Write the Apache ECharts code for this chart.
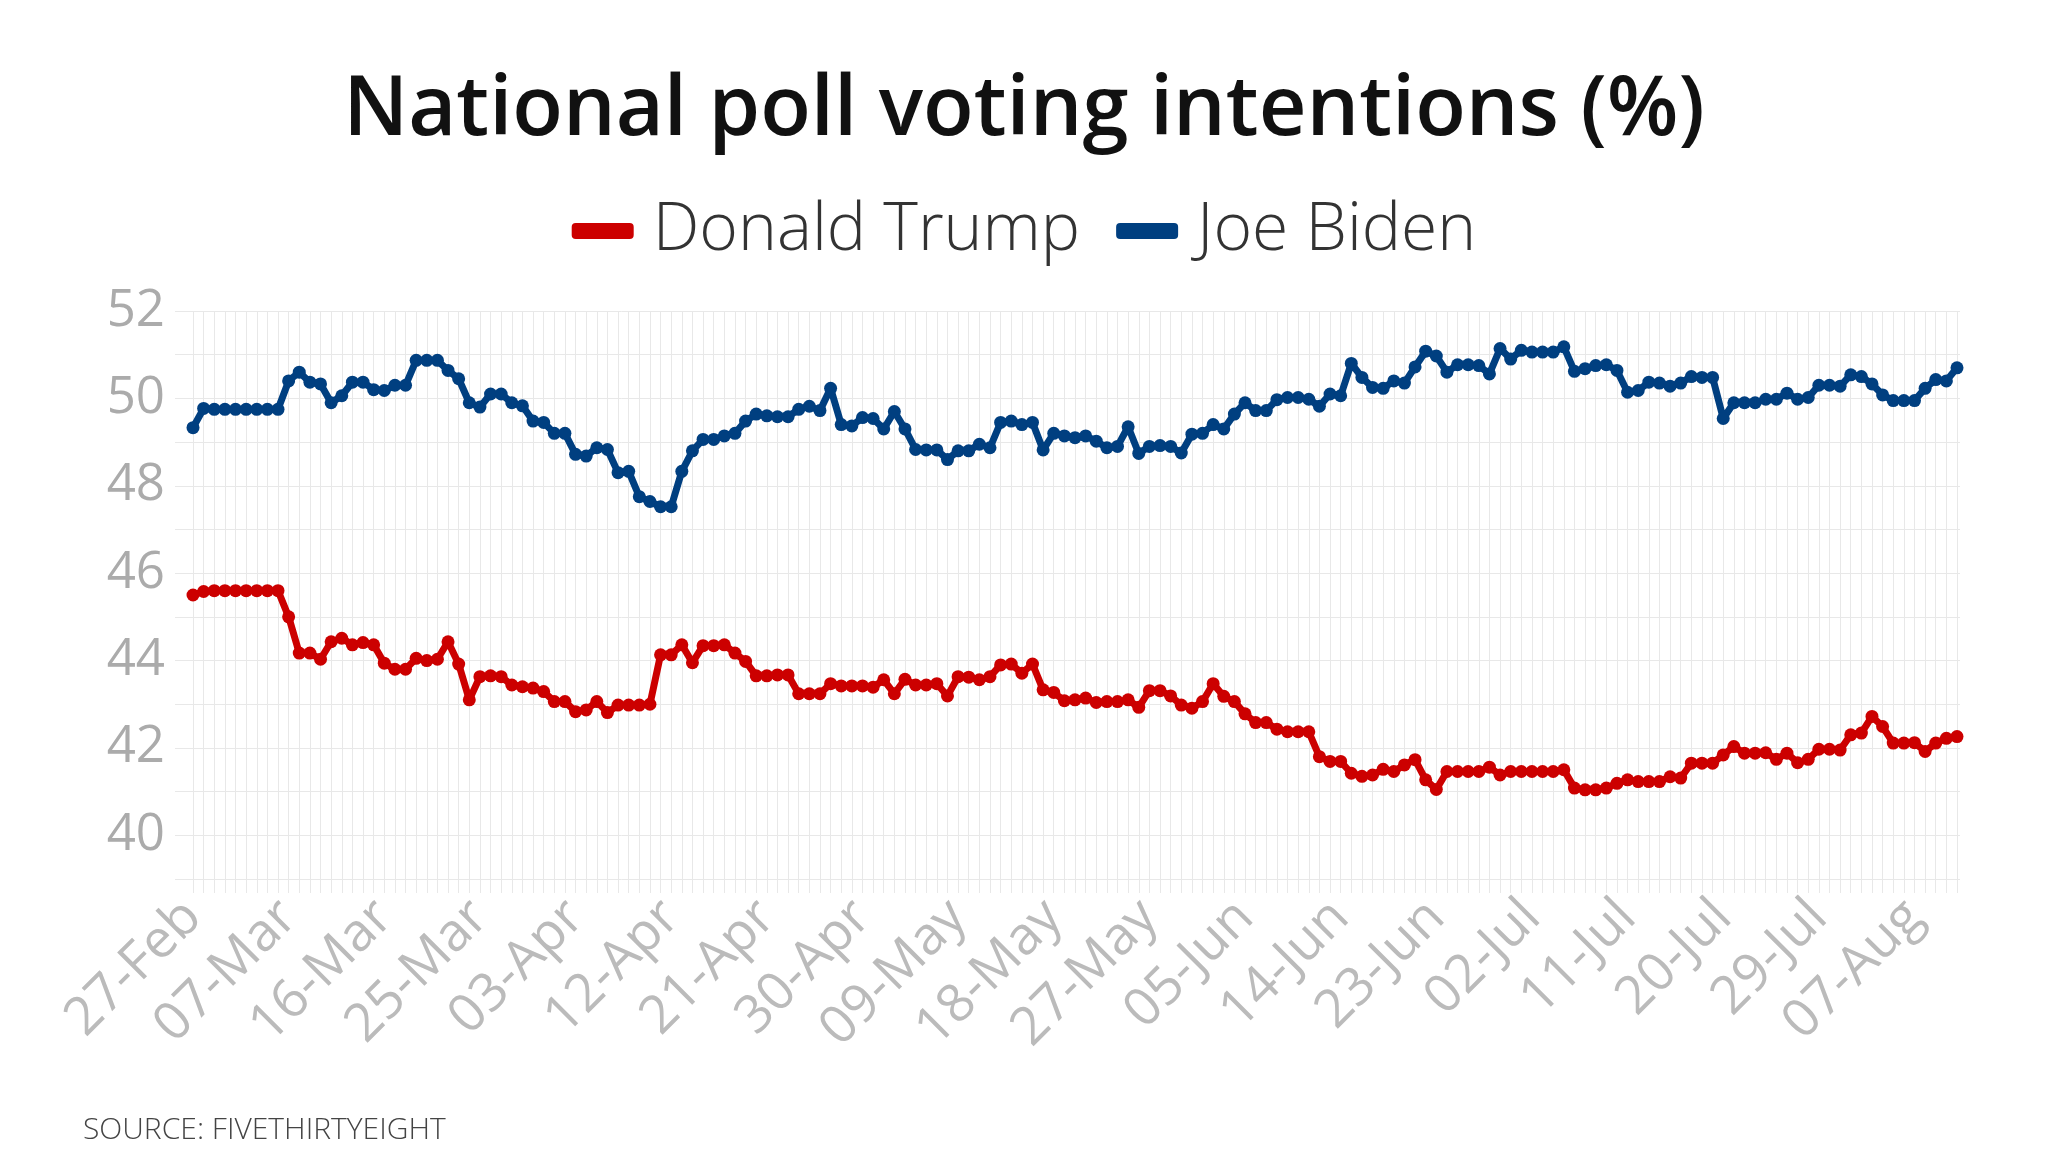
<!DOCTYPE html>
<html>
<head>
<meta charset="utf-8">
<script src="https://cdn.jsdelivr.net/npm/echarts@6/dist/echarts.min.js"></script>
<style>html,body{margin:0;padding:0;background:#fff;}#c{width:2048px;height:1152px;}</style>
</head>
<body>
<div id="c"></div>
<script>
// Days from 27-Feb-2020 to 11-Aug-2020 (daily)
const startDate = [2020, 1, 27];
const dayCount = 167;
const monthNames = ['Jan','Feb','Mar','Apr','May','Jun','Jul','Aug','Sep','Oct','Nov','Dec'];
const categories = [];
for (let k = 0; k < dayCount; k++) {
  const d = new Date(Date.UTC(startDate[0], startDate[1], startDate[2] + k));
  categories.push(String(d.getUTCDate()).padStart(2, '0') + '-' + monthNames[d.getUTCMonth()]);
}
const tickLabels = ['27-Feb','07-Mar','16-Mar','25-Mar','03-Apr','12-Apr','21-Apr','30-Apr','09-May','18-May','27-May','05-Jun','14-Jun','23-Jun','02-Jul','11-Jul','20-Jul','29-Jul','07-Aug'];

const trump = [
45.5,45.58,45.6,45.6,45.6,45.6,45.6,45.6,45.6,45.0,
44.17,44.17,44.03,44.43,44.51,44.36,44.41,44.36,43.94,43.8,
43.8,44.05,44.0,44.03,44.43,43.92,43.1,43.63,43.65,43.63,
43.44,43.4,43.37,43.29,43.06,43.06,42.83,42.87,43.06,42.81,
42.98,42.98,42.98,43.0,44.13,44.13,44.36,43.95,44.34,44.34,
44.36,44.17,43.98,43.65,43.65,43.67,43.67,43.24,43.24,43.24,
43.47,43.42,43.42,43.42,43.39,43.56,43.24,43.57,43.44,43.44,
43.47,43.19,43.63,43.62,43.56,43.63,43.9,43.92,43.71,43.92,
43.33,43.27,43.08,43.1,43.14,43.04,43.06,43.06,43.1,42.93,
43.31,43.31,43.19,42.98,42.91,43.06,43.47,43.18,43.06,42.78,
42.58,42.58,42.43,42.37,42.37,42.37,41.8,41.69,41.69,41.42,
41.35,41.38,41.51,41.46,41.61,41.73,41.27,41.05,41.46,41.46,
41.46,41.46,41.56,41.38,41.46,41.46,41.46,41.46,41.46,41.5,
41.08,41.04,41.04,41.08,41.19,41.27,41.23,41.23,41.23,41.34,
41.31,41.65,41.65,41.65,41.84,42.03,41.88,41.88,41.89,41.74,
41.88,41.66,41.74,41.97,41.97,41.95,42.3,42.34,42.72,42.49,
42.11,42.11,42.12,41.92,42.11,42.22,42.26
];
const biden = [
49.33,49.77,49.75,49.75,49.75,49.75,49.75,49.75,49.75,50.4,
50.6,50.37,50.33,49.9,50.06,50.37,50.37,50.2,50.18,50.3,
50.3,50.87,50.87,50.87,50.64,50.45,49.9,49.8,50.1,50.1,
49.9,49.83,49.48,49.45,49.2,49.2,48.72,48.68,48.87,48.83,
48.3,48.33,47.75,47.64,47.52,47.52,48.33,48.8,49.06,49.06,
49.14,49.2,49.48,49.64,49.6,49.58,49.58,49.75,49.82,49.72,
50.23,49.4,49.37,49.56,49.54,49.3,49.7,49.3,48.83,48.82,
48.82,48.6,48.8,48.8,48.95,48.87,49.45,49.48,49.4,49.45,
48.82,49.2,49.14,49.1,49.14,49.02,48.87,48.9,49.35,48.74,
48.9,48.92,48.9,48.75,49.18,49.2,49.4,49.3,49.64,49.9,
49.72,49.72,49.97,50.02,50.02,49.98,49.82,50.1,50.06,50.8,
50.48,50.25,50.23,50.4,50.35,50.72,51.08,50.97,50.6,50.77,
50.77,50.75,50.56,51.14,50.9,51.1,51.06,51.06,51.06,51.18,
50.62,50.68,50.75,50.77,50.64,50.14,50.18,50.37,50.35,50.28,
50.35,50.5,50.48,50.48,49.54,49.9,49.9,49.9,49.98,49.98,
50.12,49.98,50.02,50.3,50.3,50.28,50.54,50.5,50.33,50.08,
49.95,49.95,49.95,50.23,50.43,50.4,50.7
];
const yTickLabels = [40, 42, 44, 46, 48, 50, 52];

const FONT = '"Open Sans", "Noto Sans", sans-serif';
const gridColor = '#e8e8e8';
const chart = echarts.init(document.getElementById('c'));
chart.setOption({
  backgroundColor: '#ffffff',
  animation: false,
  title: [
    { text: 'National poll voting intentions (%)', left: 'center', top: 65,
      textStyle: { fontFamily: FONT, fontWeight: 600, fontSize: 83, color: '#111111' } },
    { text: 'SOURCE: FIVETHIRTYEIGHT', left: 78, top: 1110,
      textStyle: { fontFamily: FONT, fontWeight: 300, fontSize: 30, color: '#444444' } }
  ],
  legend: {
    top: 193, left: 'center',
    icon: 'roundRect', itemWidth: 62, itemHeight: 16, itemGap: 36,
    textStyle: { fontFamily: FONT, fontWeight: 300, fontSize: 66, color: '#333333', padding: [0, 0, 0, 14] },
    data: ['Donald Trump', 'Joe Biden']
  },
  grid: [
    { left: 175, right: 88, top: 311, bottom: 273 },
    { left: 193, right: 91, top: 311, bottom: 273 }
  ],
  xAxis: [
    { type: 'value', gridIndex: 0, min: 0, max: 1, show: false },
    { type: 'category', gridIndex: 1, data: categories, boundaryGap: false,
      axisLine: { show: false },
      axisTick: { show: true, interval: 0, length: 14, lineStyle: { color: gridColor, width: 1 } },
      splitLine: { show: true, interval: 0, lineStyle: { color: gridColor, width: 1 } },
      axisLabel: { interval: 8, rotate: 45, margin: 30, fontFamily: FONT, fontSize: 53, color: '#bbbbbb',
        formatter: function (v) { return tickLabels.indexOf(v) >= 0 ? v : ''; } }
    }
  ],
  yAxis: [
    { type: 'value', gridIndex: 0, min: 39, max: 52, interval: 1,
      axisLine: { show: false }, axisTick: { show: false },
      splitLine: { show: true, lineStyle: { color: gridColor, width: 1 } },
      axisLabel: { margin: 10, fontFamily: FONT, fontSize: 51, color: '#ababab',
        formatter: function (v) { return yTickLabels.indexOf(v) >= 0 ? String(v) : ''; } }
    },
    { type: 'value', gridIndex: 1, min: 39, max: 52, show: false }
  ],
  series: [
    { name: 'Donald Trump', type: 'line', xAxisIndex: 1, yAxisIndex: 1, data: trump,
      symbol: 'circle', symbolSize: 13, showAllSymbol: true,
      lineStyle: { color: '#cc0000', width: 7 }, itemStyle: { color: '#cc0000' } },
    { name: 'Joe Biden', type: 'line', xAxisIndex: 1, yAxisIndex: 1, data: biden,
      symbol: 'circle', symbolSize: 13, showAllSymbol: true,
      lineStyle: { color: '#003f80', width: 7 }, itemStyle: { color: '#003f80' } }
  ]
});
</script>
</body>
</html>
